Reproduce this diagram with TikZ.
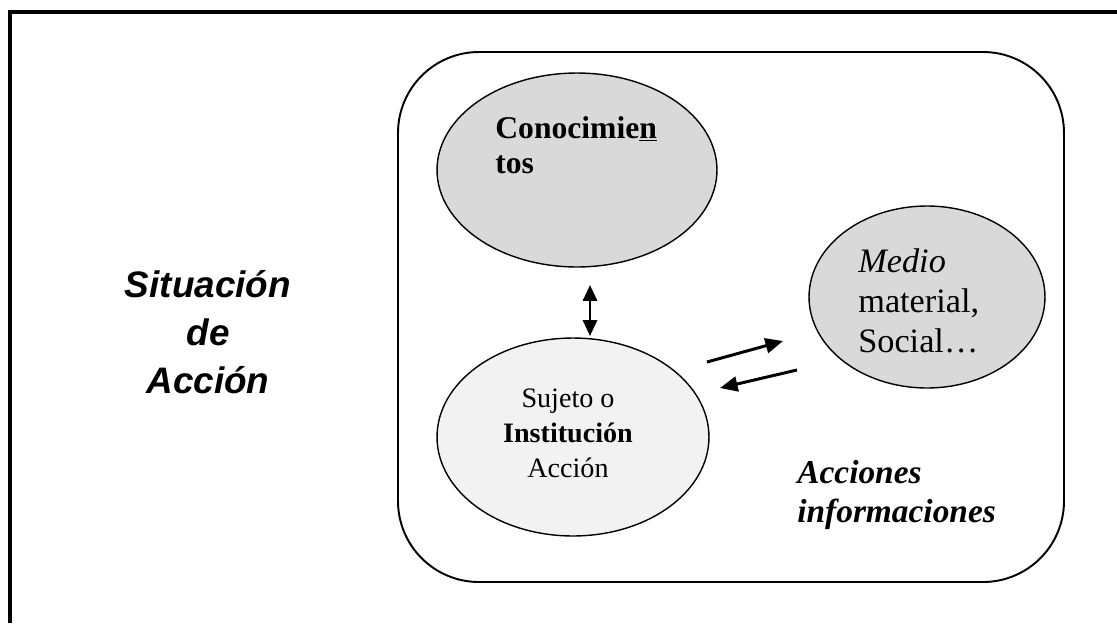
\documentclass[tikz,border=0pt]{standalone}
\usepackage{fontspec}
\setmainfont{Liberation Serif}
\newfontfamily\arialfont{Liberation Sans}
\usetikzlibrary{arrows.meta,shapes.geometric}
\definecolor{shadegray}{HTML}{D9D9D9}
\definecolor{lightshade}{HTML}{F2F2F2}
\begin{document}
\begin{tikzpicture}[x=0.02cm,y=-0.02cm,
  >={Triangle[length=10pt,width=8.5pt]},
  blob/.style={ellipse,draw,line width=0.8pt,inner sep=0pt},
  flow/.style={->,line width=1.7pt},
  txt/.style={align=left,anchor=base west,inner sep=0pt}]
\useasboundingbox (0,0) rectangle (1117,623);
% frame (cut at right and bottom)
\draw[line width=2.3pt] (1117,12) -- (10,12) -- (10,623);
\draw[line width=1.1pt,rounded corners=1.62cm] (398,52) rectangle (1064,582);
% ellipses
\node[blob,fill=shadegray,minimum width=5.6cm,minimum height=3.88cm] (conoc) at (577,170) {};
\node[blob,fill=lightshade,minimum width=5.44cm,minimum height=3.96cm] (sujeto) at (573,437) {};
\node[blob,fill=shadegray,minimum width=4.72cm,minimum height=3.64cm] (medio) at (927,297) {};
% texts (anchored on the last line)
\node[txt,font=\bfseries\fontsize{18}{19.8}\selectfont] (conoctxt) at (495,173) {Conocimie\underline{n}\\tos};
\node[txt,font=\fontsize{19.5}{22.7}\selectfont] (mediotxt) at (858,352) {\textit{Medio}\\material,\\Social\dots};
\node[align=center,anchor=base,inner sep=0pt,font=\fontsize{16}{19.8}\selectfont] (sujetotxt) at (568,477) {Sujeto o\\\textbf{Institución}\\Acción};
\node[txt,font=\bfseries\itshape\fontsize{19}{22.1}\selectfont] (acciones) at (797,522) {Acciones\\informaciones};
\node[align=center,anchor=base,inner sep=0pt,font=\arialfont\bfseries\itshape\fontsize{21}{27.2}\selectfont] (situacion) at (208,393) {Situación\\de\\Acción};
% arrows
\coordinate (up) at (590,285);
\coordinate (dn) at (590,336);
\coordinate (goA) at (707,362);
\coordinate (goB) at (783,341);
\coordinate (backA) at (797,370);
\coordinate (backB) at (720,388);
\draw[<->,line width=1.5pt,>={Triangle[length=9pt,width=8pt]}] (up) -- (dn);
\draw[flow] (goA) -- (goB);
\draw[flow] (backA) -- (backB);
\end{tikzpicture}
\end{document}
